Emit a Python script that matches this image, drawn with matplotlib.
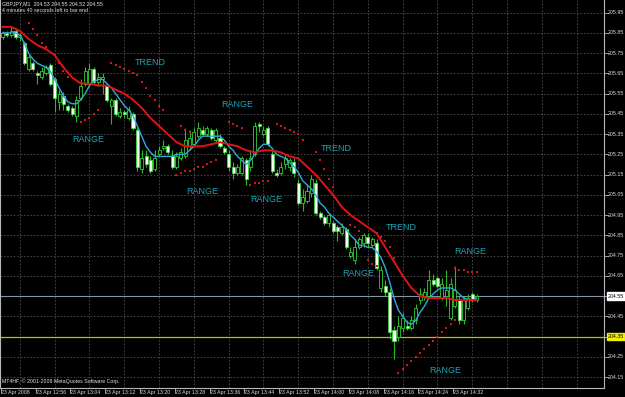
import matplotlib
matplotlib.use("Agg")
import matplotlib.pyplot as plt
from matplotlib.patches import Rectangle
import numpy as np

# ---------------- data ----------------
opens = [205.83,205.85,205.84,205.86,205.83,205.80,205.67,205.70,205.65,205.63,
         205.65,205.69,205.62,205.51,205.54,205.49,205.48,205.44,205.53,205.60,
         205.60,205.67,205.61,205.62,205.59,205.49,205.52,205.44,205.46,205.43,
         205.45,205.37,205.18,205.24,205.22,205.18,205.25,205.28,205.29,205.24,
         205.19,205.23,205.24,205.29,205.30,205.34,205.37,205.35,205.37,205.32,
         205.33,205.28,205.25,205.19,205.16,205.16,205.22,205.19,205.25,205.40,
         205.35,205.38,205.25,205.16,205.16,205.20,205.19,205.21,205.11,205.01,
         205.02,205.06,205.11,204.96,204.94,204.91,204.91,204.89,204.86,204.88,
         204.75,204.73,204.79,204.81,204.84,204.80,204.81,204.59,204.60,204.57,
         204.38,204.35,204.39,204.40,204.39,204.43,204.53,204.55,204.55,204.63,
         204.64,204.54,204.55,204.44,204.50,204.53,204.43,204.49,204.56,204.53]
highs = [205.86,205.86,205.88,205.87,205.85,205.81,205.74,205.71,205.66,205.68,
         205.69,205.70,205.63,205.57,205.56,205.50,205.49,205.54,205.62,205.68,
         205.70,205.68,205.65,205.65,205.60,205.53,205.53,205.48,205.47,205.49,
         205.46,205.38,205.27,205.27,205.24,205.27,205.29,205.32,205.30,205.27,
         205.26,205.28,205.38,205.37,205.38,205.41,205.39,205.39,205.38,205.38,
         205.35,205.29,205.27,205.21,205.20,205.24,205.23,205.27,205.41,205.41,
         205.39,205.39,205.27,205.18,205.21,205.25,205.23,205.23,205.13,205.08,
         205.10,205.15,205.13,204.97,204.95,204.96,204.92,204.90,204.91,204.89,
         204.79,204.83,204.84,204.86,204.86,204.84,204.83,204.70,204.63,204.59,
         204.40,204.45,204.47,204.43,204.45,204.51,204.59,204.59,204.68,204.66,
         204.65,204.64,204.68,204.64,204.70,204.55,204.55,204.56,204.57,204.56]
lows = [205.82,205.83,205.83,205.82,205.81,205.69,205.66,205.66,205.60,205.62,
        205.64,205.59,205.46,205.47,205.47,205.46,205.44,205.41,205.52,205.59,
        205.59,205.60,205.59,205.55,205.51,205.40,205.44,205.43,205.43,205.42,
        205.37,205.17,205.16,205.19,205.16,205.17,205.24,205.27,205.25,205.18,
        205.18,205.22,205.23,205.27,205.29,205.33,205.34,205.34,205.32,205.31,
        205.28,205.25,205.17,205.13,205.15,205.15,205.10,205.17,205.24,205.36,
        205.34,205.29,205.16,205.14,205.15,205.18,205.17,205.14,205.00,204.97,
        205.01,205.04,204.95,204.93,204.90,204.89,204.86,204.82,204.85,204.78,
        204.74,204.71,204.78,204.79,204.79,204.79,204.68,204.57,204.55,204.34,
        204.24,204.33,204.37,204.38,204.38,204.41,204.51,204.53,204.54,204.60,
        204.59,204.53,204.50,204.43,204.49,204.41,204.41,204.48,204.52,204.52]
closes = [205.85,205.84,205.86,205.83,205.84,205.70,205.73,205.67,205.64,205.66,
          205.68,205.60,205.53,205.55,205.50,205.47,205.45,205.52,205.59,205.66,
          205.67,205.61,205.63,205.63,205.52,205.52,205.45,205.46,205.45,205.47,
          205.38,205.19,205.23,205.20,205.17,205.23,205.27,205.29,205.26,205.19,
          205.24,205.26,205.32,205.33,205.36,205.38,205.35,205.38,205.33,205.37,
          205.29,205.26,205.19,205.16,205.19,205.23,205.13,205.23,205.39,205.39,
          205.37,205.30,205.17,205.15,205.19,205.23,205.22,205.16,205.01,205.04,
          205.07,205.13,204.96,204.94,204.91,204.95,204.87,204.87,204.89,204.79,
          204.77,204.79,204.83,204.85,204.81,204.83,204.69,204.68,204.57,204.37,
          204.33,204.40,204.44,204.39,204.43,204.49,204.56,204.57,204.63,204.61,
          204.60,204.61,204.58,204.61,204.58,204.43,204.53,204.54,204.53,204.55]

fast_ma = [205.85,205.85,205.85,205.85,205.84,205.80,205.75,205.72,205.70,205.69,
           205.68,205.66,205.62,205.58,205.54,205.51,205.50,205.50,205.52,205.55,
           205.59,205.61,205.62,205.62,205.60,205.58,205.55,205.52,205.49,205.47,
           205.44,205.39,205.34,205.29,205.26,205.24,205.24,205.24,205.24,205.24,
           205.25,205.25,205.25,205.27,205.29,205.32,205.34,205.34,205.34,205.34,
           205.34,205.32,205.29,205.27,205.24,205.22,205.20,205.22,205.25,205.28,
           205.30,205.30,205.28,205.25,205.24,205.23,205.21,205.19,205.16,205.12,
           205.10,205.08,205.05,205.01,204.99,204.96,204.94,204.92,204.90,204.88,
           204.85,204.83,204.80,204.80,204.79,204.79,204.77,204.74,204.69,204.62,
           204.54,204.48,204.45,204.42,204.41,204.43,204.47,204.50,204.54,204.56,
           204.58,204.59,204.59,204.59,204.58,204.56,204.54,204.53,204.53,204.54]

slow_bars = [0,2,4,6,8,10,12,14,16,18,20,22,24,26,28,30,32,34,36,38,40,42,44,46,48,
             50,52,54,56,58,60,62,64,66,68,70,72,74,76,78,80,82,84,86,88,90,92,94,
             96,98,100,102,104,106,108,109]
slow_ma = [205.88,205.88,205.86,205.82,205.79,205.77,205.74,205.68,205.63,205.60,
           205.60,205.59,205.59,205.57,205.55,205.52,205.48,205.43,205.39,205.35,
           205.31,205.29,205.29,205.29,205.30,205.31,205.30,205.29,205.27,205.26,
           205.27,205.27,205.26,205.24,205.23,205.19,205.15,205.10,205.05,204.99,
           204.95,204.92,204.89,204.86,204.79,204.72,204.65,204.59,204.55,204.54,
           204.54,204.54,204.53,204.53,204.53,204.53]

# red dotted envelope segments: (bar positions, prices)
dot_segments = [
    ([6,7,8,9,10], [205.90,205.87,205.84,205.80,205.78]),
    ([13,14,15], [205.70,205.66,205.63]),
    ([18,19,20,21,22], [205.41,205.42,205.43,205.45,205.47]),
    ([25,26,27,28,29,30,31,32,33,34,35,36,37], [205.70,205.69,205.68,205.67,205.66,205.65,205.64,205.61,205.58,205.54,205.52,205.49,205.47]),
    ([41,42,43], [205.39,205.37,205.36]),
    ([40,41,42,43,44,45,46,47,48,49], [205.15,205.16,205.17,205.17,205.18,205.19,205.19,205.20,205.21,205.22]),
    ([52,53,54,55], [205.41,205.40,205.39,205.38]),
    ([57,58,59,60,61], [205.10,205.11,205.11,205.12,205.12]),
    ([63,64,65,66,67,68,69], [205.40,205.39,205.38,205.37,205.36,205.35,205.32]),
    ([72,73,74,75,76], [205.26,205.22,205.18,205.13,205.09]),
    ([80,81,82], [204.90,204.89,204.87]),
    ([84,85,86], [204.73,204.71,204.70]),
    ([86,87,88,89,90], [204.86,204.84,204.82,204.79,204.74]),
    ([91,92,93,94,95,96,97,98,99,100,101,102,103,104], [204.17,204.19,204.21,204.23,204.25,204.27,204.29,204.31,204.33,204.35,204.37,204.39,204.41,204.43]),
    ([104,105,106,107,108,109], [204.69,204.68,204.68,204.67,204.67,204.67]),
]

y_ticks = [205.95,205.85,205.75,205.65,205.55,205.45,205.35,205.25,205.15,205.05,
           204.95,204.85,204.75,204.65,204.55,204.45,204.35,204.25,204.15]
time_labels = ["23 Apr 2008","23 Apr 12:56","23 Apr 13:04","23 Apr 13:12","23 Apr 13:20",
               "23 Apr 13:28","23 Apr 13:36","23 Apr 13:44","23 Apr 13:52","23 Apr 14:00",
               "23 Apr 14:08","23 Apr 14:16","23 Apr 14:24","23 Apr 14:32"]
time_label_bars = [0,8,16,24,32,40,48,56,64,72,80,88,96,104]

bid_price = 204.55
alert_price = 204.35

notes = [("TREND",33.9,205.706),("RANGE",19.7,205.321),("RANGE",53.9,205.494),
         ("TREND",76.7,205.281),("RANGE",45.9,205.069),("RANGE",60.6,205.025),
         ("TREND",91.6,204.891),("RANGE",107.5,204.768),("RANGE",81.7,204.659),
         ("RANGE",101.7,204.180)]

# ---------------- figure ----------------
W, H = 625, 397
fig = plt.figure(figsize=(W/100, H/100), dpi=100, facecolor="black")
ax = fig.add_axes([0, 9/H, 604/W, 388/H], facecolor="black")
xmin, xmax = -0.575, 138.28
ymin, ymax = 204.0957, 206.0127
ax.set_xlim(xmin, xmax)
ax.set_ylim(ymin, ymax)

fnt = ["Liberation Sans", "DejaVu Sans"]
small = 3.8
grid_c = "#505050"
for p in y_ticks:
    ax.axhline(p, color=grid_c, lw=0.6, ls=(0, (2, 2)), zorder=1)
for b in range(4, 139, 8):
    ax.axvline(b, color=grid_c, lw=0.6, ls=(0, (2, 2)), zorder=1)

# candles
wick_c = "#26bc26"
for i, (o, h, l, c) in enumerate(zip(opens, highs, lows, closes)):
    ax.plot([i, i], [l, h], color=wick_c, lw=0.8, zorder=3, solid_capstyle="butt")
    lo, hi = min(o, c), max(o, c)
    if hi - lo < 0.004:
        hi = lo + 0.004
    if c >= o:
        face, edge = "black", "#30d030"
    else:
        face, edge = "#f2fff2", "#44d844"
    ax.add_patch(Rectangle((i - 0.35, lo), 0.70, hi - lo, facecolor=face,
                           edgecolor=edge, lw=0.6, zorder=4))

ax.plot(range(len(fast_ma)), fast_ma, color="#2eaade", lw=1.0, zorder=5)
ax.plot(slow_bars, slow_ma, color="#e01414", lw=1.4, zorder=5)

for bx, by in dot_segments:
    ax.scatter(bx, by, s=1.2, color="#d01818", marker="s", lw=0, zorder=5)

ax.axhline(bid_price, color="#8796a4", lw=0.8, zorder=2)
ax.axhline(alert_price, color="#bcbc10", lw=0.9, zorder=2)

for txt, bx, by in notes:
    ax.text(bx, by, txt, color="#1fa3b4", fontsize=6.5, family=fnt,
            ha="center", va="center", zorder=6)

# axes frame
ax.spines["top"].set_visible(False)
for s in ["left", "right", "bottom"]:
    ax.spines[s].set_color("#b8b8b8")
    ax.spines[s].set_linewidth(0.8)
ax.set_xticks([])
ax.set_yticks([])

# right price labels
ytr = ax.get_yaxis_transform()
for p in y_ticks:
    ax.plot([1.0, 1.006], [p, p], transform=ytr, color="#b8b8b8", lw=0.6, clip_on=False)
    if abs(p - bid_price) < 1e-6 or abs(p - alert_price) < 1e-6:
        continue
    ax.text(1.006, p, f"{p:.2f}", transform=ytr, color="#dcdcdc",
            fontsize=small, va="center", ha="left", family=fnt, clip_on=False)
ax.text(1.006, bid_price, f"{bid_price:.2f}", transform=ytr, color="black",
        fontsize=small, va="center", ha="left", family=fnt,
        bbox=dict(boxstyle="square,pad=0.2", fc="white", ec="white"))
ax.text(1.006, alert_price, f"{alert_price:.2f}", transform=ytr, color="black",
        fontsize=small, va="center", ha="left", family=fnt,
        bbox=dict(boxstyle="square,pad=0.2", fc="#f0f000", ec="#f0f000"))

# bottom time labels
xtr = ax.get_xaxis_transform()
for b, t in zip(time_label_bars, time_labels):
    ax.text(b - 0.4, -0.006, t, transform=xtr, color="#dcdcdc",
            fontsize=small, va="top", ha="left", family=fnt)
    ax.plot([b - 0.4, b - 0.4], [0, -0.01], transform=xtr, color="#b8b8b8",
            lw=0.6, clip_on=False)

# header and footer text
ax.text(0.004, 0.997, "GBPJPY,M1  204.53 204.55 204.52 204.55", transform=ax.transAxes,
        color="#e4e4e4", fontsize=small, va="top", ha="left", family=fnt)
ax.text(0.004, 0.979, "4 minutes 40 seconds left to bar end", transform=ax.transAxes,
        color="#e4e4e4", fontsize=small, va="top", ha="left", family=fnt)
ax.text(0.004, 0.010, "MT4HF, \u00a9 2001-2008 MetaQuotes Software Corp.", transform=ax.transAxes,
        color="#e4e4e4", fontsize=small, va="bottom", ha="left", family=fnt)

fig.savefig("out.png", dpi=100, facecolor="black")
